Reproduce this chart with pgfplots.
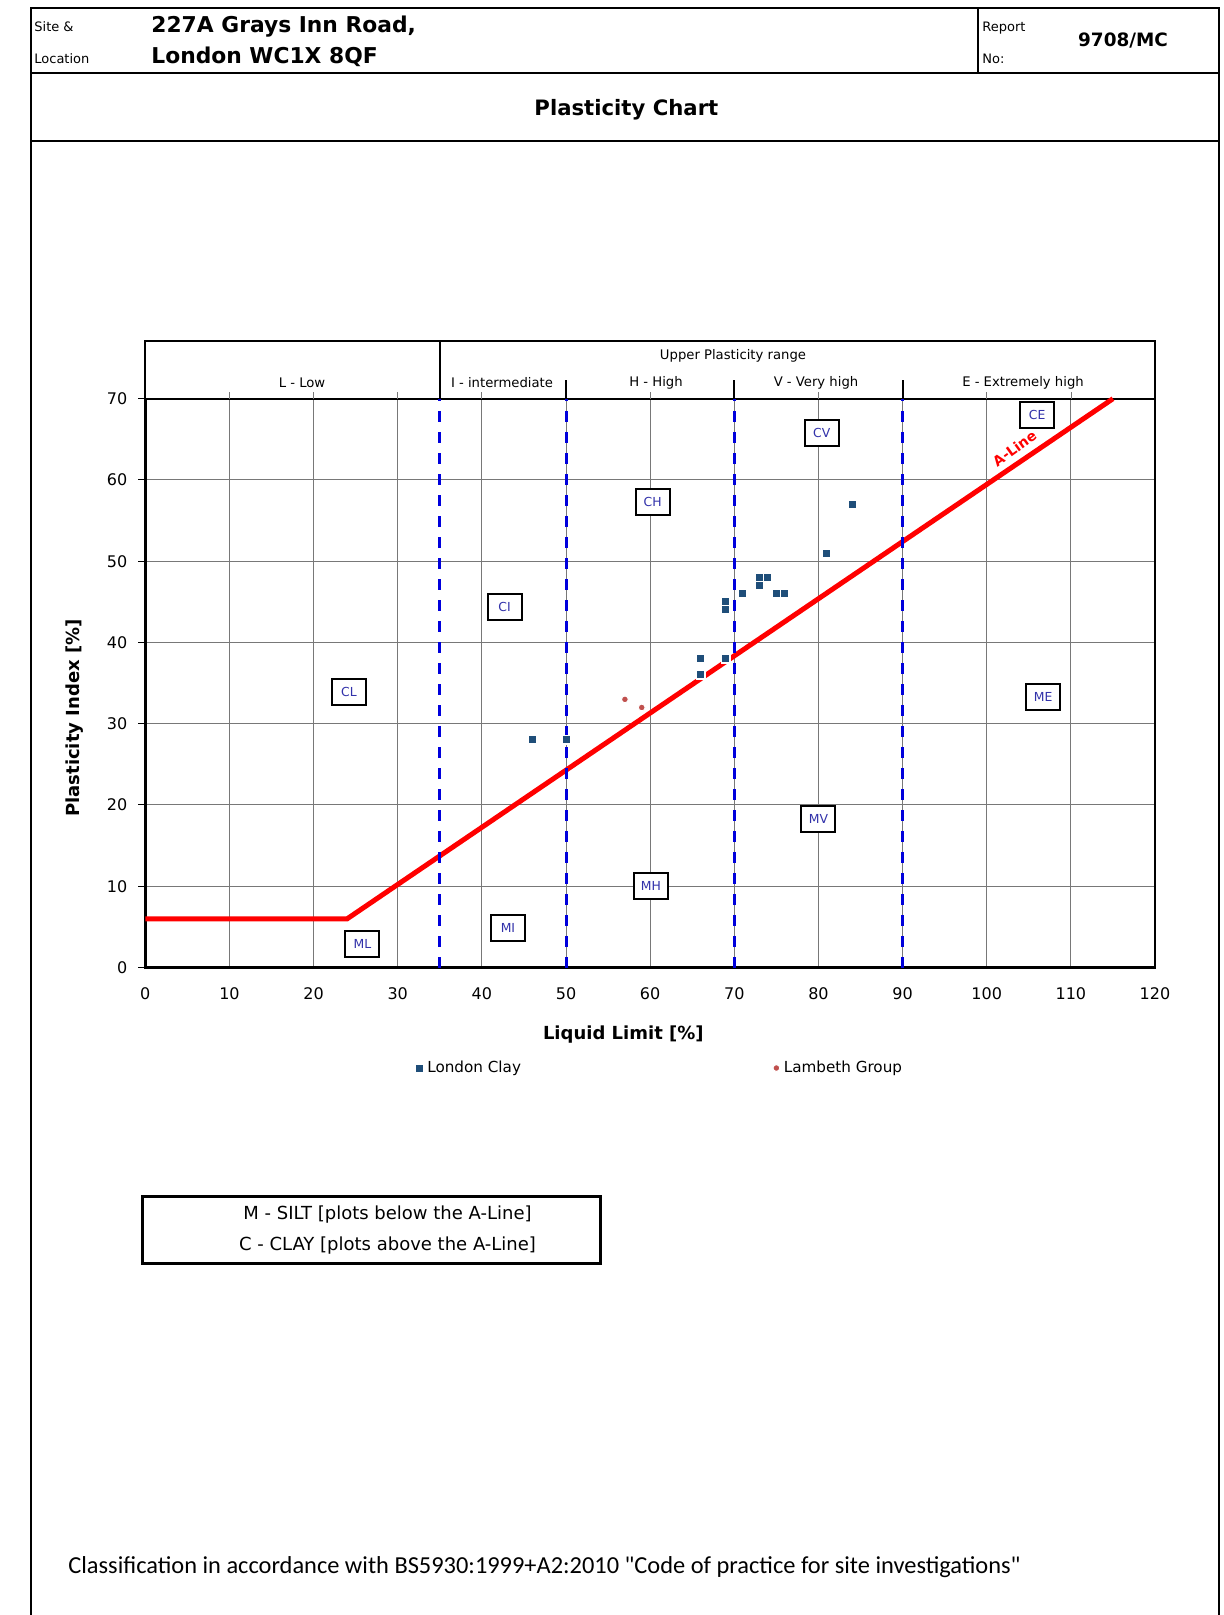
\documentclass[border=0pt]{standalone}
\usepackage{pgfplots}
\pgfplotsset{compat=1.18}
\usepackage{fontspec}
\setmainfont{DejaVu Sans}
\newfontfamily\carlito{Carlito}
\definecolor{navyblue}{RGB}{31,78,121}
\definecolor{lamb}{RGB}{192,80,77}
\definecolor{zone}{RGB}{50,50,170}
\definecolor{dashblue}{RGB}{0,0,220}
\definecolor{gridgray}{RGB}{120,120,120}
\tikzset{zonebox/.style={draw=black, line width=1pt, fill=white, text=zone, font=\fontsize{6.2}{7}\selectfont, minimum width=17pt, minimum height=13pt, inner sep=1pt}}
\begin{document}
\begin{tikzpicture}
\path[use as bounding box] (0,0) rectangle (612pt,-807.5pt);
\begin{axis}[
 at={(72.65pt,-483.75pt)}, anchor=south west,
 scale only axis, width=504.85pt, height=284.4pt,
 xmin=0, xmax=120, ymin=0, ymax=70,
 xtick={0,10,...,120}, ytick={0,10,...,70},
 grid=major, grid style={gridgray, line width=0.5pt},
 axis line style={black, line width=1.2pt},
 tick label style={font=\fontsize{8}{9}\selectfont},
 /pgf/number format/assume math mode=true,
 xtick pos=bottom, ytick pos=left,
 xtick style={draw=none},
 ytick style={black, line width=0.5pt},
 tick align=outside, major tick length=3.5pt,
 xticklabel style={yshift=-3pt},
 yticklabel style={xshift=-2pt},
 xlabel={Liquid Limit [\%]}, ylabel={Plasticity Index [\%]},
 every axis x label/.style={at={(axis description cs:0.4734,0)}, anchor=center, yshift=-33.5pt, font=\bfseries\fontsize{9}{10}\selectfont},
 every axis y label/.style={at={(axis description cs:0,0.4386)}, xshift=-35.5pt, rotate=90, anchor=center, font=\bfseries\fontsize{9}{10}\selectfont},
 clip=false,
 legend style={at={(axis description cs:0.2666,-0.1767)}, anchor=west, draw=none, fill=none, legend columns=2, font=\fontsize{7.6}{9}\selectfont, inner sep=0pt, /tikz/every even column/.append style={column sep=124pt}},
 legend image code/.code={\draw[#1] plot coordinates {(0pt,0pt)};},
]
\addplot[red, line width=2.5pt, forget plot] coordinates {(0,6) (24,6) (115,70)};
\addplot[dashblue, line width=1.5pt, dash pattern=on 5.5pt off 5pt, forget plot] coordinates {(35,0) (35,70)};
\addplot[dashblue, line width=1.5pt, dash pattern=on 5.5pt off 5pt, forget plot] coordinates {(50,0) (50,70)};
\addplot[dashblue, line width=1.5pt, dash pattern=on 5.5pt off 5pt, forget plot] coordinates {(70,0) (70,70)};
\addplot[dashblue, line width=1.5pt, dash pattern=on 5.5pt off 5pt, forget plot] coordinates {(90,0) (90,70)};
\node[zonebox] at (axis cs:80.4,65.8) {CV};
\node[zonebox] at (axis cs:106.0,68.0) {CE};
\node[zonebox] at (axis cs:60.3,57.3) {CH};
\node[zonebox] at (axis cs:42.7,44.4) {CI};
\node[zonebox] at (axis cs:24.2,33.9) {CL};
\node[zonebox] at (axis cs:106.7,33.3) {ME};
\node[zonebox] at (axis cs:80.0,18.3) {MV};
\node[zonebox] at (axis cs:60.1,10.0) {MH};
\node[zonebox] at (axis cs:43.1,4.9) {MI};
\node[zonebox] at (axis cs:25.8,2.9) {ML};
\node[rotate=36, text=red, inner sep=0pt, font=\bfseries\fontsize{7}{8}\selectfont] at (axis cs:103.3,63.9) {A-Line};
\addplot[only marks, mark=square*, mark size=2.1pt, mark options={fill=navyblue, draw=white, line width=0.7pt}] coordinates {
(84,57) (81,51) (73,48) (74,48) (73,47) (71,46) (75,46) (76,46) (69,45) (69,44) (66,38) (69,38) (66,36) (46,28) (50,28)};
\addlegendentry{London Clay}
\addplot[only marks, mark=*, mark size=1.7pt, mark options={fill=lamb, draw=white, line width=0.5pt}] coordinates {(57,33) (59,32)};
\addlegendentry{Lambeth Group}
\end{axis}
\begin{scope}[x=0.5pt,y=-0.5pt]
 % page frame
 \draw[line width=1.1pt] (31,1615) -- (31,8) -- (1219,8) -- (1219,1615);
 \draw[line width=1pt] (31,73) -- (1219,73);
 \draw[line width=1pt] (978,8) -- (978,73);
 \draw[line width=1pt] (31,141) -- (1219,141);
 \node[anchor=base west, font=\fontsize{6.5}{7}\selectfont, inner sep=0pt] at (34,32) {Site \&};
 \node[anchor=base west, font=\fontsize{6.5}{7}\selectfont, inner sep=0pt] at (34,64) {Location};
 \node[anchor=base west, font=\fontsize{6.5}{7}\selectfont, inner sep=0pt] at (982,32) {Report};
 \node[anchor=base west, font=\fontsize{6.5}{7}\selectfont, inner sep=0pt] at (982,64) {No:};
 \node[anchor=base west, font=\bfseries\fontsize{10.9}{12}\selectfont, inner sep=0pt] at (151,33) {227A Grays Inn Road,};
 \node[anchor=base west, font=\bfseries\fontsize{10.9}{12}\selectfont, inner sep=0pt] at (151,63.5) {London WC1X 8QF};
 \node[anchor=base, font=\bfseries\fontsize{9.2}{11}\selectfont, inner sep=0pt] at (1123,46.5) {9708/MC};
 \node[anchor=base, font=\bfseries\fontsize{10.6}{12}\selectfont, inner sep=0pt] at (626.4,115.5) {Plasticity Chart};
 % header box above plot
 \draw[line width=1pt] (145.3,398.7) -- (145.3,341) -- (1155,341) -- (1155,398.7);
 \draw[line width=1pt] (439.8,341) -- (439.8,398.7);
 \foreach \xx in {566,734.3,902.6} \draw[line width=1pt] (\xx,380) -- (\xx,398.7);
 \foreach \xx in {229.4,313.6,397.7,481.9,650.2,818.6,986.9,1071.1} \draw[gridgray, line width=0.5pt] (\xx,392) -- (\xx,398.7);
 \node[font=\fontsize{6.6}{8}\selectfont, inner sep=0pt] at (733,356) {Upper Plasticity range};
 \node[font=\fontsize{6.6}{8}\selectfont, inner sep=0pt] at (302,383) {L - Low};
 \node[font=\fontsize{6.6}{8}\selectfont, inner sep=0pt] at (502,383) {I - intermediate};
 \node[font=\fontsize{6.6}{8}\selectfont, inner sep=0pt] at (656,383) {H - High};
 \node[font=\fontsize{6.6}{8}\selectfont, inner sep=0pt] at (816,383) {V - Very high};
 \node[font=\fontsize{6.6}{8}\selectfont, inner sep=0pt] at (1023,383) {E - Extremely high};
 % classification box
 \draw[line width=1.5pt] (142,1196) rectangle (600,1263);
 \node[font=\fontsize{9}{10}\selectfont, inner sep=0pt] at (387.5,1214.7) {M - SILT [plots below the A-Line]};
 \node[font=\fontsize{9}{10}\selectfont, inner sep=0pt] at (387.5,1245.6) {C - CLAY [plots above the A-Line]};
 \node[anchor=west, font=\carlito\fontsize{12.2}{14}\selectfont, inner sep=0pt] at (68,1567) {Classification in accordance with BS5930:1999+A2:2010 "Code of practice for site investigations"};
\end{scope}
\end{tikzpicture}
\end{document}
